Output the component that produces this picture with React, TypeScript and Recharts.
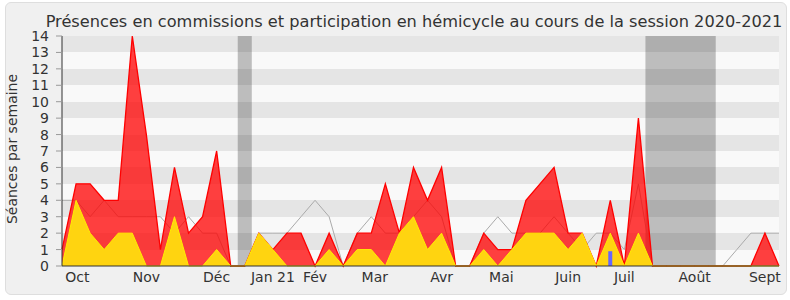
import {
  ComposedChart, Area, Bar, XAxis, YAxis, CartesianGrid, ReferenceArea,
} from "recharts";

// one point per week, from the end of Sept 2020 to Sept 2021
const weeks = Array.from({ length: 52 }, (_, i) => i);

// commissions + hemicycle (red)
const presenceTotal = [
  1, 5, 5, 4, 4, 14, 8, 1, 6, 2,
  3, 7, 0, 0, 2, 1, 2, 2, 0, 2,
  0, 2, 2, 5, 2, 6, 4, 6, 0, 0,
  2, 1, 1, 4, 5, 6, 2, 2, 0, 4,
  0, 9, 0, 0, 0, 0, 0, 0, 0, 0,
  2, 0,
];

// hemicycle participation (yellow)
const hemicycle = [
  0, 4, 2, 1, 2, 2, 0, 0, 3, 0,
  0, 1, 0, 0, 2, 1, 0, 0, 0, 1,
  0, 1, 1, 0, 2, 3, 1, 2, 0, 0,
  1, 0, 1, 2, 2, 2, 1, 2, 0, 2,
  0, 2, 0, 0, 0, 0, 0, 0, 0, 0,
  0, 0,
];

// median of all deputies (grey line)
const median = [
  4, 4, 3, 4, 3, 3, 3, 3, 2, 3,
  2, 2, 0, 0, 2, 2, 2, 3, 4, 3,
  0, 2, 3, 2, 2, 3, 4, 3, 0, 0,
  2, 3, 2, 2, 2, 3, 2, 1, 2, 2,
  1, 5, 0, 0, 0, 0, 0, 0, 1, 2,
  2, 2,
];

// oral questions (blue bar)
const questions: (number | null)[] = weeks.map(() => null);
questions[39] = 0.9;

const monthPos = [1.1, 6, 11, 15, 18, 22.25, 27, 31.25, 36, 40, 45, 50];
const monthLabels = ["Oct", "Nov", "Déc", "Jan 21", "Fév", "Mar", "Avr", "Mai", "Juin", "Juil", "Août", "Sept"];

// parliamentary holidays (shaded)
const holidays = [
  [12.5, 13.5],
  [41.5, 46.5],
];

const yTicks = [0, 1, 2, 3, 4, 5, 6, 7, 8, 9, 10, 11, 12, 13, 14];

const data = weeks.map((w, i) => ({
  week: w,
  total: presenceTotal[i],
  hemi: hemicycle[i],
  median: median[i],
  q: questions[i],
}));

const FONT = "'DejaVu Sans', Verdana, sans-serif";

export default function App() {
  return (
    <div style={{ position: "absolute", left: 0, top: 0, width: 790, height: 300, background: "#fff", fontFamily: FONT }}>
      <div
        style={{
          position: "absolute", left: 5, top: 2, width: 780, height: 291,
          background: "#f0f0f0", border: "1px solid #dedede", borderRadius: 6,
        }}
      />
      <div style={{ position: "absolute", left: 0, top: 0 }}>
        <ComposedChart width={790} height={300} data={data} margin={{ top: 36, right: 11, bottom: 0, left: 0 }}>
          <CartesianGrid vertical={false} stroke="none" horizontalFill={["#e5e5e5", "#f9f9f9"]} />
          {holidays.map(([a, b], i) => (
            <ReferenceArea key={i} x1={a} x2={b} fill="#000" fillOpacity={0.24} stroke="none" />
          ))}
          <XAxis
            type="number"
            dataKey="week"
            domain={[0, 51]}
            ticks={weeks}
            interval={0}
            tick={false}
            tickSize={5}
            height={5}
            stroke="#333"
          />
          <XAxis
            xAxisId="m"
            type="number"
            dataKey="week"
            domain={[0, 51]}
            ticks={monthPos}
            interval={0}
            tickFormatter={(_v, i) => monthLabels[i]}
            tickLine={false}
            axisLine={false}
            tickSize={0}
            tickMargin={1}
            height={29}
            tick={{ fontSize: 14, fill: "#333" }}
          />
          <XAxis
            xAxisId="top"
            orientation="top"
            type="number"
            dataKey="week"
            domain={[0, 51]}
            ticks={weeks}
            interval={0}
            tick={false}
            axisLine={false}
            tickSize={1}
            height={0}
            stroke="#333"
          />
          <YAxis
            type="number"
            domain={[0, 14]}
            ticks={yTicks}
            interval={0}
            width={62}
            tickSize={6}
            tickMargin={7}
            axisLine={{ stroke: "#333" }}
            tickLine={{ stroke: "#999" }}
            tick={{ fontSize: 14, fill: "#333" }}
          />
          <Area
            type="linear"
            dataKey="median"
            stroke="#aaaaaa"
            strokeWidth={1}
            fill="none"
            fillOpacity={0}
            dot={false}
            activeDot={false}
            isAnimationActive={false}
          />
          <Area
            type="linear"
            dataKey="total"
            stroke="#ff0000"
            strokeWidth={1.3}
            fill="#ff0000"
            fillOpacity={0.75}
            dot={false}
            activeDot={false}
            isAnimationActive={false}
          />
          <Area
            type="linear"
            dataKey="hemi"
            stroke="#ffee00"
            strokeWidth={1}
            fill="#ffd410"
            fillOpacity={1}
            dot={false}
            activeDot={false}
            isAnimationActive={false}
          />
          <Bar dataKey="q" barSize={4} fill="#6666ff" isAnimationActive={false} />
        </ComposedChart>
      </div>
      <svg style={{ position: "absolute", left: 0, top: 0 }} width={790} height={300}>
        <text x={414} y={26.5} textAnchor="middle" fontSize={16.2} fill="#333" fontFamily={FONT}>
          Présences en commissions et participation en hémicycle au cours de la session 2020-2021
        </text>
        <text
          transform="translate(16.5,149) rotate(-90)"
          textAnchor="middle"
          fontSize={14}
          fill="#333"
          fontFamily={FONT}
        >
          Séances par semaine
        </text>
      </svg>
    </div>
  );
}
